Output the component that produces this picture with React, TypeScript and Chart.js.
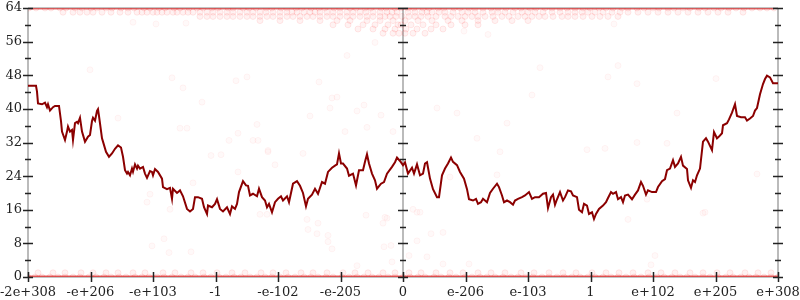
import { useEffect, useRef } from "react";
import { Chart, registerables } from "chart.js";

Chart.register(...registerables);

// x unit: ordered-float bucket offset from 0 (each labelled step = 62.5 buckets)
const xTickValues = [-375, -312.5, -250, -187.5, -125, -62.5, 0, 62.5, 125, 187.5, 250, 312.5, 375];
const xTickLabels = ["-2e+308", "-e+206", "-e+103", "-1", "-e-102", "-e-205", "0", "e-206", "e-103", "1", "e+102", "e+205", "e+308"];
const yTickValues = [0, 8, 16, 24, 32, 40, 48, 56, 64];
const yMinorTickValues = [4, 12, 20, 28, 36, 44, 52, 60];
const axisXValues = [-375, 0, 375];

// moving-average line
const lineX = [
  -375, -367, -366, -365, -361, -358, -356, -355, -353, -350, -348, -344, -342, -341, -338, -336, -335, -333, -331, -330,
  -328, -326, -325, -323, -321, -318, -315, -313, -311, -310, -308, -306, -305, -304, -301, -300, -297, -294, -291, -288,
  -285, -282, -280, -278, -276, -275, -273, -271, -270, -268, -266, -265, -263, -260, -258, -256, -253, -251, -250, -248,
  -245, -241, -240, -236, -233, -231, -230, -226, -223, -220, -216, -213, -210, -208, -205, -201, -199, -196, -195, -191,
  -188, -186, -183, -180, -176, -173, -171, -168, -166, -164, -160, -157, -155, -153, -150, -146, -144, -141, -138, -136,
  -134, -131, -128, -125, -122, -120, -116, -114, -110, -106, -103, -100, -97, -95, -91, -88, -85, -81, -78, -75,
  -71, -68, -66, -64, -62, -60, -56, -54, -50, -47, -44, -40, -38, -36, -34, -31, -28, -26, -22, -19,
  -16, -11, -8, -6, -3, 0, 2, 5, 9, 11, 14, 17, 20, 22, 24, 27, 30, 34, 36, 39,
  42, 45, 48, 50, 54, 57, 61, 64, 66, 70, 73, 75, 78, 80, 84, 87, 90, 94, 96, 99,
  101, 104, 107, 110, 112, 115, 119, 122, 126, 129, 132, 136, 140, 143, 145, 148, 150, 152, 154, 157,
  160, 162, 165, 168, 170, 174, 176, 179, 181, 184, 186, 189, 191, 193, 196, 200, 203, 205, 208, 210,
  213, 215, 218, 220, 222, 225, 229, 232, 235, 238, 240, 243, 245, 249, 253, 255, 259, 262, 264, 267,
  270, 272, 275, 278, 280, 284, 285, 288, 290, 292, 294, 297, 300, 303, 305, 309, 311, 314, 316, 319,
  320, 324, 326, 329, 332, 334, 338, 342, 344, 347, 350, 352, 354, 357, 360, 362, 364, 367, 370, 375,
];
const lineY = [
  45.5, 45.5, 44.1, 41.3, 41.1, 41.5, 40.4, 41.1, 39.6, 40.4, 40.7, 40.7, 37.1, 34.6, 32.6, 34.6, 35.8, 34.6, 35.0, 32.6,
  36.6, 36.9, 36.6, 37.9, 34.6, 32.2, 33.4, 33.8, 37.1, 37.9, 37.2, 39.5, 39.9, 38.3, 33.0, 32.2, 29.8, 28.6, 29.4, 30.5,
  31.3, 30.8, 28.6, 25.4, 24.6, 25.0, 24.2, 25.8, 25.0, 26.8, 25.8, 26.5, 25.8, 26.2, 24.6, 23.6, 25.2, 25.0, 24.2, 25.7,
  25.0, 23.4, 21.4, 20.9, 21.2, 18.6, 21.0, 20.0, 20.6, 19.2, 16.2, 15.6, 16.2, 19.0, 19.0, 18.6, 16.6, 15.0, 17.0, 16.6,
  17.4, 18.5, 16.2, 15.6, 16.6, 15.0, 16.8, 16.2, 17.4, 20.2, 22.8, 21.8, 21.7, 19.4, 19.8, 19.2, 21.0, 19.0, 18.2, 16.6,
  17.4, 15.4, 17.8, 18.6, 19.2, 18.2, 19.2, 17.8, 22.2, 22.8, 21.7, 20.0, 16.8, 18.6, 19.6, 21.0, 19.8, 22.6, 22.2, 25.0,
  26.0, 26.5, 26.8, 29.4, 27.0, 27.0, 25.8, 24.1, 24.6, 21.8, 25.4, 25.4, 27.4, 29.2, 27.0, 24.6, 23.0, 21.0, 22.2, 22.6,
  24.6, 26.2, 27.3, 28.4, 27.6, 26.6, 27.3, 24.6, 26.0, 24.6, 26.8, 24.2, 24.6, 27.0, 27.3, 23.4, 20.9, 19.0, 19.0, 24.2,
  25.8, 27.0, 28.4, 27.4, 26.6, 25.0, 23.4, 20.9, 18.5, 18.2, 18.6, 17.4, 17.8, 18.6, 17.8, 20.0, 21.0, 22.2, 21.4, 19.4,
  17.8, 18.2, 17.8, 17.2, 18.2, 18.6, 19.0, 19.4, 20.2, 18.6, 19.0, 19.0, 19.8, 20.0, 16.4, 19.0, 19.6, 17.2, 18.5, 20.2,
  18.2, 19.0, 20.6, 20.4, 19.4, 19.0, 16.0, 15.4, 17.4, 17.0, 15.0, 15.4, 13.8, 15.0, 16.2, 17.0, 17.8, 18.8, 20.2, 19.8,
  20.2, 18.5, 19.0, 17.8, 19.4, 19.6, 18.5, 19.6, 20.6, 22.6, 21.7, 19.6, 20.6, 20.2, 20.2, 21.4, 22.8, 23.3, 25.4, 25.8,
  27.8, 26.2, 27.0, 28.6, 26.5, 25.7, 23.0, 21.2, 23.0, 22.6, 24.2, 25.8, 32.2, 33.0, 32.2, 30.2, 34.5, 33.0, 33.4, 34.2,
  36.1, 36.6, 37.5, 39.1, 41.1, 38.3, 38.0, 38.0, 37.2, 37.7, 38.3, 39.6, 40.2, 43.5, 45.9, 47.1, 47.9, 47.5, 46.1, 46.1,
];

// raw samples: rows of integer values
const row64X = [
  -374, -367, -358, -352, -343, -337, -328, -321, -312, -306, -297, -291, -282, -275, -269, -259, -253, -244, -238, -229,
  -223, -214, -206, -200, -191, -185, -175, -170, -160, -154, -147, -137, -131, -122, -116, -107, -101, -92, -84, -78,
  -69, -63, -53, -47, -38, -32, -22, -17, -8, -2, 5, 11, 20, 26, 35, 41, 51, 57, 66, 72,
  80, 88, 95, 103, 112, 118, 127, 133, 142, 149, 157, 164, 172, 180, 187, 196, 203, 210, 219, 225,
  234, 241, 250, 256, 265, 271, 280, 287, 296, 302, 311, 318, 326, 333, 341, 349, 357, 364, 371,
];
const row63X = [
  -340, -330, -323, -316, -310, -301, -292, -283, -275, -266, -261, -256, -250, -246, -241, -236, -230, -226, -220, -215,
  -210, -203, -196, -190, -183, -176, -170, -163, -156, -150, -143, -137, -130, -123, -116, -111, -106, -99, -93, -88,
  -83, -76, -70, -63, -56, -50, -43, -37, -30, -23, -16, -11, -6, 5, 12, 19, 24, 29, 36, 42,
  50, 59, 65, 72, 80, 89, 95, 102, 110, 119, 125, 132, 140, 149, 157, 165, 172, 179, 185, 192,
  200, 209, 217, 225, 235, 245, 255, 265, 275, 285, 295, 305, 315, 325, 340,
];
const row62X = [
  -203, -196, -190, -183, -176, -170, -163, -156, -150, -143, -136, -130, -123, -116, -110, -103, -96, -90, -83, -76,
  -70, -63, -56, -50, -43, -36, -30, -23, -18, -13, -7, -1, 6, 12, 18, 25, 33, 42, 48, 55,
  62, 69, 75, 82, 90, 99, 106, 115, 122, 129, 136, 142, 150, 159, 165, 172, 180, 189, 197, 205, 215,
];
const row61X = [-143, -123, -103, -83, -66, -53, -36, -23, -10, 2, 15, 29, 45, 59, 75, 92, 109, 125];
const row60X = [-70, -55, -40, -28, -15, -5, -2, 8, 20, 33, 48, 62, 75];
const row59X = [-45, -30, -18, -8, 3, 14, 28, 40];
const row58X = [-20, -10, -4, 2, 10, 22];
const row1X = [
  -365, -350, -338, -322, -310, -297, -285, -270, -258, -240, -228, -212, -200, -186, -171, -158, -142, -130, -117, -102,
  -90, -76, -60, -48, -35, -20, -8, 6, 18, 33, 47, 60, 75, 88, 102, 118, 131, 146, 160, 173,
  189, 203, 216, 230, 245, 258, 272, 287, 300, 314, 327, 342, 355, 368,
];
const row0X = [
  -375, -368, -361, -353, -345, -338, -330, -323, -314, -307, -299, -292, -284, -277, -268, -261, -254, -246, -239, -231,
  -222, -215, -208, -199, -192, -184, -177, -169, -162, -153, -146, -138, -131, -123, -115, -108, -99, -92, -85, -77,
  -70, -61, -54, -46, -39, -31, -24, -15, -8, 0, 7, 15, 22, 31, 38, 46, 53, 62, 69, 77,
  84, 92, 100, 108, 115, 123, 130, 139, 146, 154, 161, 169, 177, 185, 192, 200, 208, 215, 223, 231,
  238, 246, 254, 261, 269, 277, 284, 292, 300, 307, 315, 323, 330, 338, 346, 353, 361, 368, 375,
];
const sparseX = [
  -313, -231, -220, -285, -223, -216, -201, -192, -182, -174, -165, -165, -150, -145, -146, -135, -210, -253, -256, -233,
  -143, -167, -156, -251, -239, -234, -212, -96, -95, -85, -86, -75, -75, -71, -46, -37, -20, -16, -19, -12,
  -11, 6, 14, 14, 24, 28, 40, 40, 66, -56, -84, -71, -66, -28, 85, 61, 215, 205, 234, 313,
  225, 252, 248, 302, 137, 129, 274, 234, 184, 202, 264, 354, 300, 244, -73, -39, -93, -46, -22, -36,
  -58, -10, 34, 54, 74, 104, 97, 94, 47, -135, -128, -100, 10, 17, -18, -136, -270, -247, -217, 211,
];
const sparseY = [
  49.3, 47.4, 45.0, 37.8, 35.4, 35.4, 41.6, 28.9, 29.1, 32.5, 34.2, 25.0, 32.5, 32.5, 36.3, 30.1, 22.4, 19.7, 17.8, 16.1,
  14.9, 46.7, 47.6, 7.4, 9.1, 5.8, 6.0, 13.7, 11.3, 12.8, 10.3, 9.9, 8.4, 6.7, 2.7, 14.7, 12.8, 14.0, 7.2, 7.5,
  3.6, 5.1, 15.4, 8.6, 4.8, 10.3, 10.6, 3.1, 3.1, 52.7, 46.4, 42.6, 42.8, 55.8, 57.7, 58.5, 50.3, 47.6, 46.0, 47.2,
  13.7, 5.1, 2.9, 15.4, 49.8, 43.3, 39.0, 32.0, 30.3, 30.6, 31.8, 24.5, 15.2, 18.5, 40.2, 40.9, 38.3, 39.5, 38.5, 35.6,
  34.6, 34.6, 40.2, 39.0, 33.0, 36.6, 29.8, 24.3, 23.8, 29.8, 26.7, 29.4, 16.1, 15.4, 14.2, 14.9, 60.6, 60.2, 60.4, 60.2,
];

const pointFill = "rgba(255,0,0,0.05)";
const pointEdge = "rgba(255,0,0,0.085)";

function row(xs: number[], y: number) {
  return xs.map((x) => ({ x, y }));
}

function sampleSet(data: { x: number; y: number }[], extra: any = {}) {
  return {
    type: "scatter" as const,
    data,
    pointRadius: 3,
    pointHoverRadius: 3,
    pointBackgroundColor: pointFill,
    pointBorderColor: pointEdge,
    pointBorderWidth: 1,
    showLine: false,
    ...extra,
  };
}

const axesPlugin = {
  id: "customAxes",
  beforeDatasetsDraw(chart: any) {
    const { ctx, chartArea, scales } = chart;
    const x = scales.x;
    const y = scales.y;
    ctx.save();
    ctx.strokeStyle = "#bbbbbb";
    ctx.lineWidth = 2;
    for (const av of axisXValues) {
      const px = Math.round(x.getPixelForValue(av));
      ctx.beginPath();
      ctx.moveTo(px, chartArea.top);
      ctx.lineTo(px, chartArea.bottom);
      ctx.stroke();
    }
    ctx.lineWidth = 1;
    ctx.strokeStyle = "#888";
    const py0 = y.getPixelForValue(0);
    const py64 = y.getPixelForValue(64);
    ctx.beginPath();
    ctx.moveTo(chartArea.left, py0);
    ctx.lineTo(chartArea.right, py0);
    ctx.moveTo(chartArea.left, py64);
    ctx.lineTo(chartArea.right, py64);
    ctx.stroke();
    ctx.restore();
  },
  afterDatasetsDraw(chart: any) {
    const { ctx, scales } = chart;
    const x = scales.x;
    const y = scales.y;
    ctx.save();
    ctx.strokeStyle = "#222";
    ctx.lineWidth = 1.5;
    ctx.beginPath();
    for (const av of axisXValues) {
      const px = Math.round(x.getPixelForValue(av));
      for (const v of yTickValues) {
        const py = Math.round(y.getPixelForValue(v)) + 0.5;
        ctx.moveTo(px - 5, py);
        ctx.lineTo(px + 5, py);
      }
      for (const v of yMinorTickValues) {
        const py = Math.round(y.getPixelForValue(v)) + 0.5;
        ctx.moveTo(px - 3, py);
        ctx.lineTo(px + 3, py);
      }
    }
    const py0 = y.getPixelForValue(0);
    for (const tv of xTickValues) {
      const px = Math.round(x.getPixelForValue(tv)) + 0.5;
      ctx.moveTo(px, py0 - 5);
      ctx.lineTo(px, py0 + 5);
    }
    ctx.stroke();
    ctx.restore();
  },
};

export default function App() {
  const ref = useRef<HTMLCanvasElement | null>(null);

  useEffect(() => {
    document.body.style.margin = "0";
    if (!ref.current) return;
    Chart.defaults.font.family = "'DejaVu Serif', serif";
    const chart = new Chart(ref.current, {
      type: "scatter",
      data: {
        datasets: [
          {
            type: "line",
            data: lineX.map((x, i) => ({ x, y: lineY[i] })),
            borderColor: "#8b0000",
            borderWidth: 2,
            pointRadius: 0,
            tension: 0,
            fill: false,
          } as any,
          sampleSet(row(row0X, 0), { showLine: true, borderColor: "rgba(225,45,45,0.75)", borderWidth: 3 }),
          sampleSet(row(row64X, 64), { showLine: true, borderColor: "rgba(220,45,45,0.65)", borderWidth: 3 }),
          sampleSet(row(row63X, 63)),
          sampleSet(row(row62X, 62)),
          sampleSet(row(row61X, 61)),
          sampleSet(row(row60X, 60)),
          sampleSet(row(row59X, 59)),
          sampleSet(row(row58X, 58)),
          sampleSet(row(row1X, 1)),
          sampleSet(sparseX.map((x, i) => ({ x, y: sparseY[i] })), {
            pointBackgroundColor: "rgba(255,0,0,0.025)",
            pointBorderColor: "rgba(255,0,0,0.045)",
          }),
        ],
      },
      plugins: [axesPlugin],
      options: {
        animation: false,
        responsive: false,
        devicePixelRatio: 1,
        layout: { padding: { top: 8, right: 22, left: 0, bottom: 0 } },
        plugins: { legend: { display: false }, tooltip: { enabled: false } },
        scales: {
          x: {
            type: "linear",
            min: -375,
            max: 375,
            border: { display: false },
            grid: { display: false, drawTicks: false },
            afterFit: (s: any) => {
              s.height = 23;
              s.paddingLeft = 0;
              s.paddingRight = 0;
            },
            afterBuildTicks: (s: any) => {
              s.ticks = xTickValues.map((v) => ({ value: v }));
            },
            ticks: {
              autoSkip: false,
              maxRotation: 0,
              padding: 8,
              color: "#222",
              font: { size: 13 },
              callback: (_v: any, i: number) => xTickLabels[i],
            },
          },
          y: {
            type: "linear",
            min: 0,
            max: 64,
            border: { display: false },
            grid: { display: false, drawTicks: false },
            afterFit: (s: any) => {
              s.width = 28;
              s.paddingTop = 0;
              s.paddingBottom = 0;
            },
            afterBuildTicks: (s: any) => {
              s.ticks = yTickValues.map((v) => ({ value: v }));
            },
            ticks: {
              padding: 6,
              color: "#222",
              font: { size: 13 },
            },
          },
        },
      },
    });
    return () => chart.destroy();
  }, []);

  return (
    <div style={{ width: 800, height: 300 }}>
      <canvas ref={ref} width={800} height={300} style={{ display: "block" }} />
    </div>
  );
}
